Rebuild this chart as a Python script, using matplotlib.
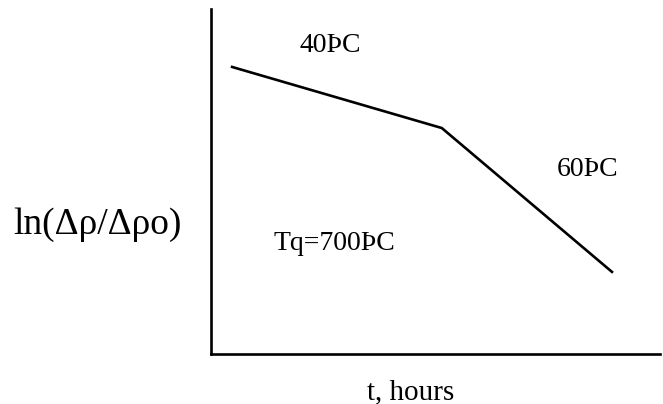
import matplotlib
matplotlib.use("Agg")
import matplotlib.pyplot as plt

# sketch of resistivity recovery (no ticks, qualitative)
t = [0.47, 5.14, 8.93]
ln_ratio = [8.32, 6.55, 2.38]

labels = ["40ÞC", "60ÞC", "Tq=700ÞC"]
label_x = [1.98, 7.7, 1.4]
label_y = [8.95, 5.35, 3.2]

plt.rcParams["font.family"] = ["Liberation Serif", "DejaVu Serif"]

fig = plt.figure(figsize=(6.63, 4.04), dpi=100)
ax = fig.add_axes([211 / 663, 50 / 404, 449 / 663, 345 / 404])
ax.plot(t, ln_ratio, color="black", lw=1.9)
ax.set_xlim(0, 10)
ax.set_ylim(0, 10)
for s in ["top", "right"]:
    ax.spines[s].set_visible(False)
for s in ["left", "bottom"]:
    ax.spines[s].set_linewidth(1.9)
ax.set_xticks([])
ax.set_yticks([])

for txt, x, y in zip(labels, label_x, label_y):
    ax.text(x, y, txt, fontsize=20, va="center", ha="left")

ax.set_xlabel("t, hours", fontsize=21, va="center")
ax.xaxis.set_label_coords(0.445, -0.11)
ax.set_ylabel("ln(Δρ/Δρo)", fontsize=27, rotation=0, ha="center", va="center")
ax.yaxis.set_label_coords(-0.254, 0.375)

fig.savefig("out.png", dpi=100)
